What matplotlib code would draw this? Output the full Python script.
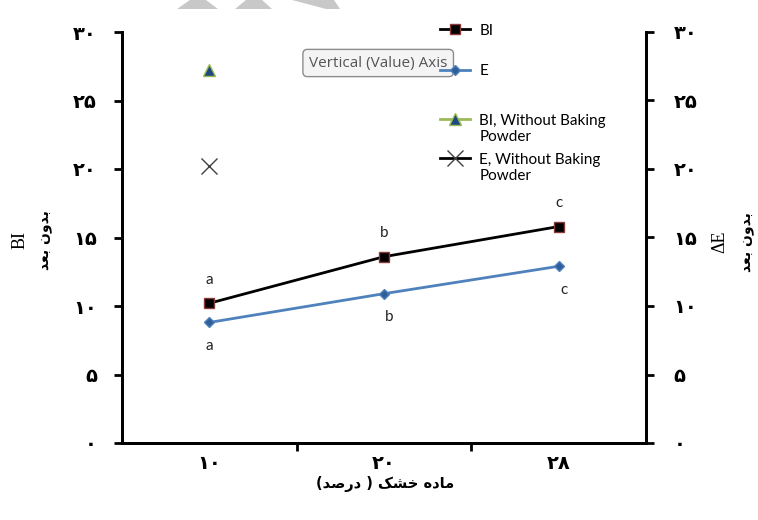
import matplotlib.pyplot as plt
from matplotlib.patches import Polygon

# data
categories = ['۱۰', '۲۰', '۲۸']          # dry matter (%)
bi_values = [10.2, 13.6, 15.8]
e_values = [8.8, 10.9, 12.9]
bi_without_bp = [27.2]
e_without_bp = [20.2]
bi_letters = ['a', 'b', 'c']
e_letters = ['a', 'b', 'c']
y_ticks = [0, 5, 10, 15, 20, 25, 30]
y_tick_labels = ['۰', '۵', '۱۰', '۱۵', '۲۰', '۲۵', '۳۰']

# Persian labels, written in shaped (presentation) forms, visual order
unit_label = '\uFEAA\uFECC\uFE91 \uFEE5\uFEED\uFEAA\uFE91'            # بدون بعد
x_label = '(\uFEAA\uFEBB\uFEAD\uFEA9 ) \uFB8F\uFEB8\uFEA7 \uFEE9\uFEA9\uFE8E\uFEE3'  # ماده خشک ( درصد)

W, H = 758, 520
fig = plt.figure(figsize=(W / 100, H / 100), dpi=100)
ax = fig.add_axes([122 / W, 1 - 443 / H, (646 - 122) / W, (443 - 32) / H])
ax2 = ax.twinx()

x = list(range(len(categories)))

l1, = ax.plot(x, bi_values, color='black', lw=2, marker='s', ms=7,
              mfc='black', mec='#8b3a3a', mew=1, label='BI')
l2, = ax2.plot(x, e_values, color='#4f81bd', lw=2, marker='D', ms=5,
               mfc='#2f5f9b', mec='#4f81bd', label='E')
l3, = ax.plot([0], bi_without_bp, color='#9bbb59', lw=2, marker='^', ms=8,
              mfc='#1f497d', mec='#9bbb59', mew=1, linestyle='-',
              label='BI, Without Baking\nPowder')
l4, = ax2.plot([0], e_without_bp, color='black', lw=2, marker='x', ms=11,
               mec='#404040', mew=1, linestyle='-',
               label='E, Without Baking\nPowder')

for xi, yi, t in zip(x, bi_values, bi_letters):
    ax.annotate(t, (xi, yi), xytext=(0, 12), textcoords='offset points',
                ha='center', va='bottom', fontsize=11, family='Lato', color='#222222')
for xi, yi, t in zip(x, e_values, e_letters):
    dx = 4 if xi > 0 else 0
    ax2.annotate(t, (xi, yi), xytext=(dx, -12), textcoords='offset points',
                 ha='center', va='top', fontsize=11, family='Lato', color='#222222')

for a in (ax, ax2):
    a.set_ylim(0, 30)
    a.set_xlim(-0.5, 2.5)
    a.set_yticks(y_ticks)
    a.spines['top'].set_visible(False)
    for s in ['left', 'right', 'bottom']:
        a.spines[s].set_linewidth(2)

ax.set_yticklabels(y_tick_labels, fontweight='bold', fontsize=14, family='DejaVu Sans')
ax2.set_yticklabels(y_tick_labels, fontweight='bold', fontsize=14, family='DejaVu Sans')
ax.tick_params(axis='y', direction='out', length=6, width=2, pad=12)
ax2.tick_params(axis='y', direction='out', length=6, width=2, pad=14)

# category axis: ticks between categories, labels centred
ax.set_xticks([0.5, 1.5])
ax.set_xticklabels([])
ax.set_xticks(x, minor=True)
ax.set_xticklabels(categories, minor=True, fontweight='bold', fontsize=14,
                   family='DejaVu Sans')
ax.tick_params(axis='x', which='major', direction='out', length=6, width=2)
ax.tick_params(axis='x', which='minor', length=0, pad=8)

# axis titles
fig.text(20 / W, 1 - 240 / H, 'BI', rotation=90, ha='center', va='center',
         family='Liberation Serif', fontsize=13)
fig.text(46 / W, 1 - 240 / H, unit_label, rotation=90, ha='center', va='center',
         family='DejaVu Sans', fontweight='bold', fontsize=10)
fig.text(720 / W, 1 - 242 / H, 'ΔE', rotation=90, ha='center', va='center',
         family='Liberation Serif', fontsize=13)
fig.text(748 / W, 1 - 242 / H, unit_label, rotation=90, ha='center', va='center',
         family='DejaVu Sans', fontweight='bold', fontsize=10)
fig.text(385 / W, 1 - 484 / H, x_label, ha='center', va='center',
         family='DejaVu Sans', fontweight='bold', fontsize=10.5)

# legend in two parts so the spacing follows the original
leg_kw = dict(loc='upper left', frameon=False, prop={'family': 'Lato', 'size': 11},
              handlelength=2.0, handletextpad=0.6)
leg1 = fig.legend(handles=[l1, l2], bbox_to_anchor=(426 / W, 1 - 10 / H),
                  labelspacing=1.75, **leg_kw)
leg2 = fig.legend(handles=[l3, l4], bbox_to_anchor=(426 / W, 1 - 100 / H),
                  labelspacing=0.6, **leg_kw)
# keep the handle level with the first line of a wrapped label
for lg in (leg1, leg2):
    for col in lg._legend_handle_box.get_children():
        for row in col.get_children():
            row.align = 'top'

# tooltip left over in the screenshot
fig.text(309 / W, 1 - 63 / H, 'Vertical (Value) Axis', ha='left', va='center',
         family='Open Sans', fontsize=11, color='#555555',
         bbox=dict(boxstyle='round,pad=0.4,rounding_size=0.3', fc='#f4f4f4',
                   ec='#8c8c8c', lw=1))

# grey watermark pieces at the top edge
for pts in ([(177, 9), (218, 9), (206, 0), (190, 0)],
            [(235, 9), (272, 9), (262, 0), (246, 0)],
            [(292, 0), (334, 0), (340, 9), (326, 9)]):
    fig.patches.append(Polygon([(px / W, 1 - py / H) for px, py in pts],
                               closed=True, transform=fig.transFigure,
                               fc='#c8c8c8', ec='none'))

fig.savefig('out.png', dpi=100)
